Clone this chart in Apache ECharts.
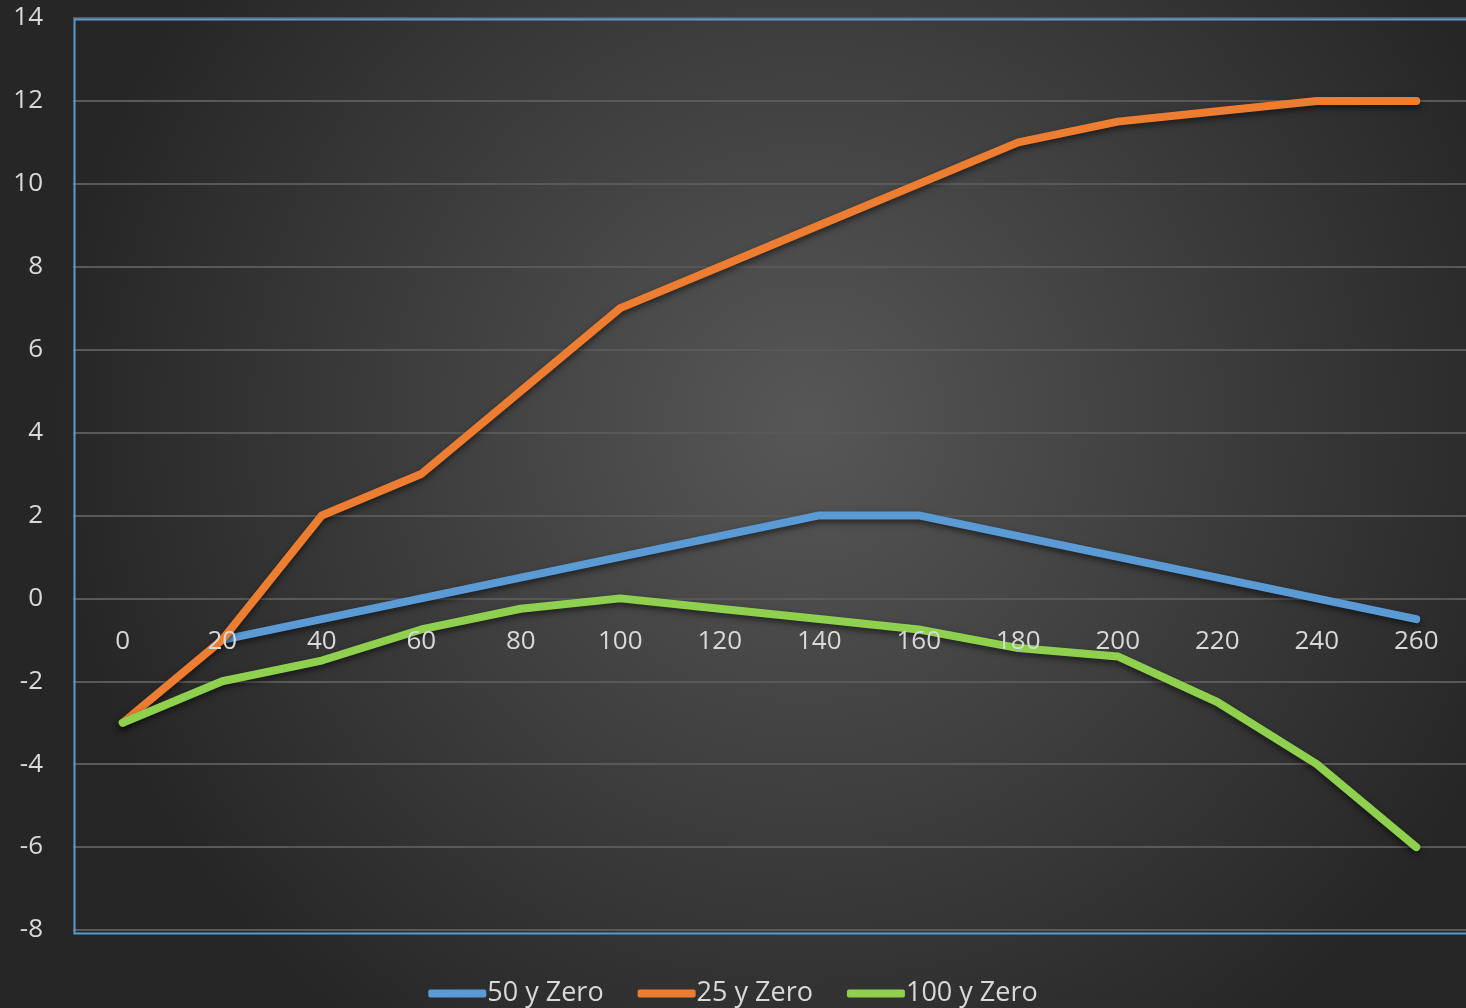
<!DOCTYPE html>
<html lang="en">
<head>
    <meta charset="UTF-8">
    <title>Zero chart</title>
    <script src="https://cdn.jsdelivr.net/npm/echarts@6/dist/echarts.min.js"></script>
    <style>
        html, body { margin: 0; padding: 0; background: #262626; }
        #main { width: 1466px; height: 1008px; }
    </style>
</head>
<body>
<div id="main"></div>
<script>
    // categories (distance)
    var xLabels = ['0', '20', '40', '60', '80', '100', '120', '140', '160', '180', '200', '220', '240', '260'];
    // series values
    var zero50 = [null, -1, -0.5, 0, 0.5, 1, 1.5, 2, 2, 1.5, 1, 0.5, 0, -0.5];
    var zero25 = [-3, -1, 2, 3, 5, 7, 8, 9, 10, 11, 11.5, 11.75, 12, 12];
    var zero100 = [-3, -2, -1.5, -0.75, -0.25, 0, -0.25, -0.5, -0.75, -1.2, -1.4, -2.5, -4, -6];

    var fontName = '"Open Sans", sans-serif';
    var chart = echarts.init(document.getElementById('main'));

    function lineSeries(name, data, color) {
        return {
            name: name,
            type: 'line',
            data: data,
            showSymbol: false,
            symbol: 'none',
            connectNulls: false,
            lineStyle: {
                color: color,
                width: 8,
                cap: 'round',
                join: 'round',
                shadowColor: 'rgba(0,0,0,0.55)',
                shadowBlur: 6,
                shadowOffsetY: 3
            },
            itemStyle: { color: color },
            animation: false
        };
    }

    var option = {
        backgroundColor: {
            type: 'radial', x: 0.55, y: 0.42, r: 0.75,
            colorStops: [
                { offset: 0, color: '#575757' },
                { offset: 1, color: '#262626' }
            ]
        },
        textStyle: { fontFamily: fontName },
        grid: {
            left: 73, right: -1, top: 18, bottom: 78,
            show: false
        },
        // plot-area frame, drawn over the split lines
        graphic: [{
            type: 'rect',
            left: 72, top: 17,
            shape: { width: 1400, height: 914 },
            style: { fill: 'none', stroke: '#5b9bd5', lineWidth: 2 },
            z: 10,
            silent: true
        }],
        legend: {
            bottom: -4,
            left: 'center',
            itemWidth: 58,
            itemHeight: 8,
            itemGap: 34,
            icon: 'roundRect',
            textStyle: { color: '#d9d9d9', fontSize: 27, fontFamily: fontName, padding: [0, 0, 0, -4] },
            data: ['50 y Zero', '25 y Zero', '100 y Zero']
        },
        xAxis: {
            type: 'category',
            data: xLabels,
            boundaryGap: true,
            z: 10,
            // labels sit on the zero line (bottom edge 930px, zero at ~598px)
            offset: -332,
            axisLine: { show: false, onZero: false },
            axisTick: { show: false },
            axisLabel: { color: '#d9d9d9', fontSize: 26, margin: 31, fontFamily: fontName },
            splitLine: { show: false }
        },
        yAxis: {
            type: 'value',
            min: -8,
            max: 14,
            interval: 2,
            axisLine: { show: false, onZero: false },
            axisTick: { show: false },
            axisLabel: { color: '#d9d9d9', fontSize: 26, margin: 30, fontFamily: fontName },
            splitLine: { show: true, lineStyle: { color: '#595959', width: 2 } }
        },
        series: [
            lineSeries('50 y Zero', zero50, '#5b9bd5'),
            lineSeries('25 y Zero', zero25, '#ed7d31'),
            lineSeries('100 y Zero', zero100, '#8fd14f')
        ]
    };
    chart.setOption(option);
    window.onresize = function () {
        chart.resize();
    };
</script>
</body>
</html>
